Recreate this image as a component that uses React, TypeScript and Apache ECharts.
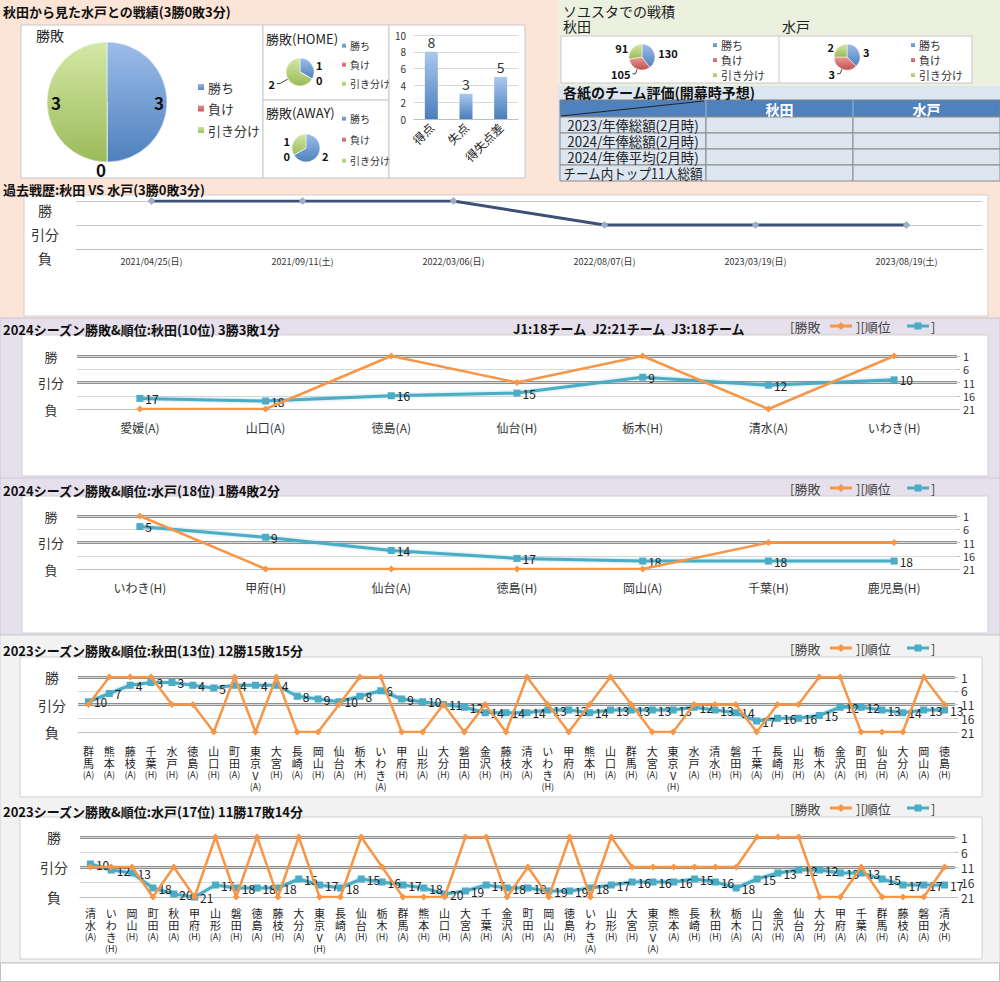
import React, { useEffect, useRef } from 'react';
import * as echarts from 'echarts';

const FONT = '"Noto Sans CJK JP", "Noto Sans", sans-serif';

// ---------------- data ----------------
const OUTCOMES = ['勝ち', '負け', '引き分け'];
const TOTAL_RECORD = [3, 0, 3];
const HOME_RECORD = [1, 0, 2];
const AWAY_RECORD = [2, 0, 1];
const GOAL_LABELS = ['得点', '失点', '得失点差'];
const GOAL_VALUES = [8, 3, 5];
const SOYUSTA_AKITA = [130, 105, 91];
const SOYUSTA_MITO = [3, 3, 2];
const TABLE_TEAMS = ['秋田', '水戸'];
const TABLE_ROWS = ['2023/年俸総額(2月時)', '2024/年俸総額(2月時)', '2024/年俸平均(2月時)', 'チーム内トップ11人総額'];

const HISTORY_DATES = ['2021/04/25(日)', '2021/09/11(土)', '2022/03/06(日)', '2022/08/07(日)', '2023/03/19(日)', '2023/08/19(土)'];
const HISTORY_RESULTS = ['W', 'W', 'W', 'D', 'D', 'D'];

const AKITA24_OPP = ['愛媛(A)', '山口(A)', '徳島(A)', '仙台(H)', '栃木(H)', '清水(A)', 'いわき(H)'];
const AKITA24_RES = ['L', 'L', 'W', 'D', 'W', 'L', 'W'];
const AKITA24_RANK = [17, 18, 16, 15, 9, 12, 10];

const MITO24_OPP = ['いわき(H)', '甲府(H)', '仙台(A)', '徳島(H)', '岡山(A)', '千葉(H)', '鹿児島(H)'];
const MITO24_RES = ['W', 'L', 'L', 'L', 'L', 'D', 'D'];
const MITO24_RANK = [5, 9, 14, 17, 18, 18, 18];

const AKITA23_OPP = ['群馬(A)', '熊本(A)', '藤枝(A)', '千葉(H)', '水戸(H)', '徳島(A)', '山口(H)', '町田(A)', '東京V(A)', '大宮(H)',
  '長崎(A)', '岡山(H)', '仙台(A)', '栃木(H)', 'いわき(A)', '甲府(H)', '山形(A)', '大分(H)', '磐田(A)', '金沢(H)',
  '藤枝(H)', '清水(A)', 'いわき(H)', '甲府(A)', '熊本(H)', '山口(A)', '群馬(H)', '大宮(A)', '東京V(H)', '水戸(A)',
  '清水(H)', '磐田(H)', '千葉(A)', '長崎(H)', '山形(H)', '栃木(A)', '金沢(A)', '町田(H)', '仙台(H)', '大分(A)',
  '岡山(A)', '徳島(H)'];
const AKITA23_RES = 'DWWWDDLWLWLLDWWLLDLDLWDLDWDLLDDDLDDWWLLLWD'.split('');
const AKITA23_RANK = [10, 7, 4, 3, 3, 4, 5, 4, 4, 4, 8, 9, 10, 8, 6, 9, 10, 11, 12, 14,
  14, 14, 13, 13, 14, 13, 13, 13, 13, 12, 13, 14, 17, 16, 16, 15, 12, 12, 13, 14, 13, 13];

const MITO23_OPP = ['清水(A)', 'いわき(H)', '岡山(H)', '町田(A)', '秋田(A)', '甲府(H)', '山形(A)', '磐田(H)', '徳島(A)', '藤枝(H)',
  '大分(A)', '東京V(H)', '長崎(A)', '仙台(H)', '栃木(H)', '群馬(A)', '熊本(H)', '山口(H)', '大宮(A)', '千葉(H)',
  '金沢(A)', '町田(H)', '岡山(A)', '徳島(H)', 'いわき(A)', '山形(H)', '大宮(H)', '東京V(A)', '熊本(A)', '長崎(H)',
  '秋田(H)', '栃木(A)', '山口(A)', '金沢(H)', '仙台(A)', '大分(H)', '甲府(A)', '千葉(A)', '群馬(H)', '藤枝(A)',
  '磐田(A)', '清水(H)'];
const MITO23_RES = 'DDDLDLWLWLWLLWDLLLWWLDLWLWDDDDDDWWWLLDLLLD'.split('');
const MITO23_RANK = [10, 12, 13, 18, 20, 21, 17, 18, 18, 18, 15, 17, 18, 15, 16, 17, 18, 20, 19, 17,
  18, 18, 19, 19, 18, 17, 16, 16, 16, 15, 16, 18, 15, 13, 12, 12, 13, 13, 15, 17, 17, 17];

const HISTORY_Y: Record<string, number> = { W: 2, D: 1, L: 0 };
const HISTORY_Y_LABEL: Record<number, string> = { 2: '勝', 1: '引分', 0: '負' };
const SEASON_Y: Record<string, number> = { W: 1, D: 11, L: 21 };
const SEASON_Y_LABEL: Record<number, string> = { 1: '勝', 11: '引分', 21: '負' };

// ---------------- styles ----------------
const ORANGE = '#f79646';
const BLUE = '#4bacc6';
const grad = (a: string, b: string) =>
  new echarts.graphic.LinearGradient(0, 0, 0, 1, [{ offset: 0, color: a }, { offset: 1, color: b }]);
const PIE_COLORS = [grad('#9dbdea', '#4f81bd'), grad('#e99a97', '#c0504d'), grad('#d3e8a6', '#9bbb59')];

const txt = (x: number, y: number, text: string, o: any = {}) => ({
  type: 'text', x, y, z: 50, silent: true, scaleX: o.scaleX || 1,
  style: {
    text, fill: o.fill || '#111', align: o.align || 'left', verticalAlign: 'middle',
    font: `${o.weight || 'normal'} ${o.size || 13}px ${FONT}`,
  },
});
const rect = (x: number, y: number, w: number, h: number, fill: string, stroke?: string, z = -10) => ({
  type: 'rect', z, silent: true, shape: { x, y, width: w, height: h },
  style: { fill, stroke: stroke || 'none', lineWidth: 1 },
});
const line = (x1: number, y1: number, x2: number, y2: number, stroke: string, w = 1, z = -5) => ({
  type: 'line', z, silent: true, shape: { x1, y1, x2, y2 }, style: { stroke, lineWidth: w },
});

// rough text width in em units (full-width chars = 1, ASCII ≈ 0.56)
const emWidth = (s: string) => s.split('').reduce((a, c) => a + (c.charCodeAt(0) < 256 ? 0.56 : 1), 0);

function seasonLegend(y: number) {
  return [
    txt(790, y, '[勝敗', { fill: '#444' }),
    line(830, y, 852, y, ORANGE, 3, 50),
    { type: 'polygon', z: 51, silent: true, shape: { points: [[841, y - 4], [845, y], [841, y + 4], [837, y]] }, style: { fill: ORANGE } },
    txt(856, y, '][順位', { fill: '#444' }),
    line(907, y, 929, y, BLUE, 3, 50),
    { type: 'rect', z: 51, silent: true, shape: { x: 914.5, y: y - 3.5, width: 7, height: 7 }, style: { fill: BLUE } },
    txt(931, y, ']', { fill: '#444' }),
  ];
}

// lineLen: per-item leader length (0 = no visible leader)
function pieSeries(center: number[], radius: number, values: number[], label: any, lineLen: number[], offsets?: number[][]) {
  return {
    type: 'pie', center, radius, startAngle: 90, clockwise: true, silent: true,
    data: OUTCOMES.map((n, i) => ({
      name: n, value: values[i], itemStyle: { color: PIE_COLORS[i] },
      labelLine: lineLen[i] > 0 ? { show: true, length: lineLen[i], length2: 3 } : { show: false, length: 1, length2: 1 },
      label: offsets ? { offset: offsets[i] } : {},
    })),
    itemStyle: { borderColor: '#fff', borderWidth: 0.5 },
    label: { show: true, formatter: '{c}', color: '#111', fontWeight: 'bold', fontFamily: FONT, distanceToLabelLine: 2, ...label },
    labelLine: { lineStyle: { color: '#444', width: 1 } },
  };
}

function pieLegend(left: number, top: number, gap: number, size: number) {
  return {
    data: OUTCOMES, orient: 'vertical', left, top, itemGap: gap, icon: 'rect', selectedMode: false, padding: 0,
    itemWidth: size < 12 ? 6 : 8, itemHeight: size < 12 ? 6 : 8,
    textStyle: { fontSize: size, color: '#333', lineHeight: size + 1, fontFamily: FONT, padding: [0, 0, 0, -2] },
  };
}

function verticalLabel(v: string) {
  const m = v.match(/^(.*)(\([AH]\))$/);
  const main = m ? m[1] : v;
  const tail = m ? m[2] : '';
  return main.split('').join('\n') + '\n{s|' + tail + '}';
}

export default function App() {
  const ref = useRef<HTMLDivElement>(null);
  useEffect(() => {
    const chart = echarts.init(ref.current!, null, { renderer: 'svg', width: 1000, height: 982 });

    const grids = [
      { left: 414, top: 35, width: 104, height: 84 },
      { left: 76, top: 201, width: 906, height: 48 },
      { left: 77, top: 356, width: 880, height: 53 },
      { left: 77, top: 516, width: 880, height: 53 },
      { left: 78, top: 677, width: 877, height: 55 },
      { left: 80, top: 837, width: 875, height: 60 },
    ];

    const seasonCharts = [
      { opp: AKITA24_OPP, res: AKITA24_RES, rank: AKITA24_RANK, vertical: false, margin: 12, leftSize: 13 },
      { opp: MITO24_OPP, res: MITO24_RES, rank: MITO24_RANK, vertical: false, margin: 12, leftSize: 13 },
      { opp: AKITA23_OPP, res: AKITA23_RES, rank: AKITA23_RANK, vertical: true, margin: 13, leftSize: 14 },
      { opp: MITO23_OPP, res: MITO23_RES, rank: MITO23_RANK, vertical: true, margin: 10, leftSize: 14 },
    ];

    const xAxis: any[] = [
      {
        type: 'category', gridIndex: 0, data: GOAL_LABELS,
        axisLine: { lineStyle: { color: '#bfbfbf' } }, axisTick: { lineStyle: { color: '#bfbfbf' } },
        axisLabel: { rotate: 45, fontSize: 12, color: '#222', margin: 6, interval: 0, fontFamily: FONT },
      },
      {
        type: 'category', gridIndex: 1, data: HISTORY_DATES,
        axisLine: { lineStyle: { color: '#bfbfbf' } }, axisTick: { lineStyle: { color: '#bfbfbf' } },
        axisLabel: { fontSize: 9, color: '#333', margin: 8, interval: 0, fontFamily: FONT },
      },
    ];
    const yAxis: any[] = [
      {
        type: 'value', gridIndex: 0, min: 0, max: 10, interval: 2,
        axisLine: { show: false }, axisTick: { show: false },
        axisLabel: { fontSize: 10, color: '#333', margin: 8, fontFamily: FONT },
        splitLine: { lineStyle: { color: '#d9d9d9' } },
      },
      {
        type: 'value', gridIndex: 1, min: 0, max: 2, interval: 1,
        axisLine: { show: false }, axisTick: { show: false },
        axisLabel: {
          formatter: (v: number) => HISTORY_Y_LABEL[v] || '', fontSize: 14, color: '#333', align: 'center', margin: 31,
          verticalAlign: 'top', padding: [2, 0, 0, 0], fontFamily: FONT,
        },
        splitLine: { lineStyle: { color: '#c8c8c8' } },
      },
    ];
    const series: any[] = [
      pieSeries([107, 102], 60, TOTAL_RECORD, { position: 'inside', fontSize: 17 }, [0, 0, 0],
        [[19, 0], [-6, 34], [-18, 0]]),
      pieSeries([300, 72], 14, HOME_RECORD, { position: 'outside', fontSize: 11 }, [0, 0, 9]),
      pieSeries([306, 148], 14, AWAY_RECORD, { position: 'outside', fontSize: 11 }, [0, 0, 0]),
      pieSeries([642, 57], 13, SOYUSTA_AKITA, { position: 'outside', fontSize: 11 }, [0, 5, 0]),
      pieSeries([847, 57], 13, SOYUSTA_MITO, { position: 'outside', fontSize: 11 }, [0, 5, 0]),
      {
        type: 'bar', xAxisIndex: 0, yAxisIndex: 0, data: GOAL_VALUES, barWidth: 13, silent: true,
        itemStyle: { color: grad('#a9c8ee', '#4a7ebb') },
        label: { show: true, position: 'top', fontSize: 14, color: '#333', distance: 3, fontFamily: FONT },
      },
      {
        type: 'line', xAxisIndex: 1, yAxisIndex: 1, data: HISTORY_RESULTS.map(r => HISTORY_Y[r]), silent: true,
        lineStyle: { color: '#3c5175', width: 3 }, symbol: 'diamond', symbolSize: 7,
        itemStyle: { color: '#9fb0c8', borderColor: '#7f93b0', borderWidth: 0.5 },
      },
    ];

    seasonCharts.forEach((s, i) => {
      const gi = i + 2;
      const yl = 2 + i * 2;
      const yr = yl + 1;
      xAxis.push({
        type: 'category', gridIndex: gi, data: s.opp,
        axisLine: { onZero: false, lineStyle: { color: '#bfbfbf' } },
        axisTick: { interval: 0, lineStyle: { color: '#bfbfbf' } },
        axisLabel: s.vertical
          ? {
            interval: 0, margin: s.margin, fontSize: 11, lineHeight: 12, color: '#222', fontFamily: FONT,
            formatter: verticalLabel, rich: { s: { fontSize: 9, lineHeight: 11, color: '#222', fontFamily: FONT } },
          }
          : { interval: 0, margin: s.margin, fontSize: 12, color: '#333', fontFamily: FONT },
      });
      yAxis.push({
        type: 'value', gridIndex: gi, min: 1, max: 21, interval: 10, inverse: true, position: 'left',
        axisLine: { show: false }, axisTick: { show: false },
        axisLabel: {
          formatter: (v: number) => SEASON_Y_LABEL[v] || '', fontSize: s.leftSize, color: '#333',
          align: 'center', margin: 26, fontFamily: FONT,
        },
        splitLine: { show: true, lineStyle: { color: ['#8f8f8f', '#8f8f8f', 'rgba(0,0,0,0)'], width: 3 } },
      });
      yAxis.push({
        type: 'value', gridIndex: gi, min: 1, max: 21, interval: 5, inverse: true, position: 'right',
        axisLine: { show: false }, axisTick: { show: true, length: 3, lineStyle: { color: '#bfbfbf' } },
        axisLabel: { fontSize: s.vertical ? 12 : 11, color: '#333', margin: 6, fontFamily: FONT },
        splitLine: { show: true, lineStyle: { color: '#d9d9d9', width: 1 } },
      });
      series.push({
        type: 'line', xAxisIndex: gi, yAxisIndex: yr, data: s.rank, silent: true, z: 3,
        lineStyle: { color: BLUE, width: 3, shadowColor: 'rgba(75,172,198,0.45)', shadowBlur: 3 },
        symbol: 'rect', symbolSize: 7, itemStyle: { color: BLUE },
        label: { show: true, position: 'right', distance: 2, fontSize: 12, color: '#222', fontFamily: FONT },
      });
      series.push({
        type: 'line', xAxisIndex: gi, yAxisIndex: yl, data: s.res.map(r => SEASON_Y[r]), silent: true, z: 4,
        lineStyle: { color: ORANGE, width: 2.5 },
        symbol: 'diamond', symbolSize: 7, itemStyle: { color: ORANGE },
      });
    });

    // ---- backgrounds, boxes, texts ----
    const g: any[] = [
      rect(0, 0, 1000, 318, '#fce4d6'),
      rect(558, 0, 442, 86, '#ebf1de'),
      rect(558, 86, 442, 94, '#dce6f1'),
      rect(0, 318, 1000, 317, '#e5e0ec', '#c9c3d3'),
      line(0, 478, 1000, 478, '#d0cadb'),
      rect(0, 635, 1000, 328, '#f2f2f2', '#d0d0d0'),
      rect(0.5, 963, 999, 18.5, '#ffffff', '#c0c0c0'),
      // top-left boxes
      rect(21, 25, 242, 153, '#ffffff', '#c8c8c8', -9),
      rect(263, 25, 126, 75, '#ffffff', '#c8c8c8', -9),
      rect(263, 100, 126, 78, '#ffffff', '#c8c8c8', -9),
      rect(389, 25, 136, 153, '#ffffff', '#c8c8c8', -9),
      // soyusta box
      rect(561, 36, 411, 47, '#ffffff', '#c8c8c8', -9),
      line(779, 36, 779, 83, '#c8c8c8', 1, -8),
      // history box
      rect(24, 195, 964, 121, '#ffffff', '#d0d0d0', -9),
      // season boxes
      rect(22, 335, 966, 141, '#ffffff', '#d0d0d0', -9),
      rect(22, 496, 966, 137, '#ffffff', '#d0d0d0', -9),
      rect(20, 657, 962, 140, '#ffffff', '#d0d0d0', -9),
      rect(20, 817, 962, 142, '#ffffff', '#d0d0d0', -9),
      // titles
      txt(3, 11, '秋田から見た水戸との戦績(3勝0敗3分)', { weight: 'bold', size: 13 }),
      txt(36, 35, '勝敗', { size: 14, fill: '#222' }),
      txt(266, 38, '勝敗(HOME)', { size: 13, fill: '#222' }),
      txt(266, 112, '勝敗(AWAY)', { size: 13, fill: '#222' }),
      txt(563, 11, 'ソユスタでの戦積', { size: 14, fill: '#222' }),
      txt(563, 26, TABLE_TEAMS[0], { size: 14, fill: '#222' }),
      txt(782, 26, TABLE_TEAMS[1], { size: 14, fill: '#222' }),
      txt(563, 92, '各紙のチーム評価(開幕時予想)', { weight: 'bold', size: 14 }),
      txt(3, 189, '過去戦歴:秋田 VS 水戸(3勝0敗3分)', { weight: 'bold', size: 13 }),
      txt(3, 329, '2024シーズン勝敗&順位:秋田(10位) 3勝3敗1分', { weight: 'bold', size: 13 }),
      txt(513, 328, 'J1:18チーム  J2:21チーム  J3:18チーム', { weight: 'bold', size: 13 }),
      txt(3, 490, '2024シーズン勝敗&順位:水戸(18位) 1勝4敗2分', { weight: 'bold', size: 13 }),
      txt(3, 650, '2023シーズン勝敗&順位:秋田(13位) 12勝15敗15分', { weight: 'bold', size: 13 }),
      txt(3, 811, '2023シーズン勝敗&順位:水戸(17位) 11勝17敗14分', { weight: 'bold', size: 13 }),
      ...seasonLegend(326),
      ...seasonLegend(488),
      ...seasonLegend(648),
      ...seasonLegend(808),
    ];

    // table
    const colX = [560, 706, 853, 1000];
    const headerTop = 100;
    const rowH = 16;
    g.push(rect(560, headerTop, 440, 17, '#4f81bd', '#7f7f7f', -8));
    g.push(line(706, headerTop, 706, headerTop + 17, '#9fb6d8', 1, -7));
    g.push(line(853, headerTop, 853, headerTop + 17, '#9fb6d8', 1, -7));
    g.push(line(561, headerTop + 16, 704, headerTop + 1, '#222', 1, -7));
    TABLE_TEAMS.forEach((t, i) => {
      g.push(txt((colX[i + 1] + colX[i + 2]) / 2, headerTop + 8.5, t, { weight: 'bold', size: 14, fill: '#fff', align: 'center' }));
    });
    TABLE_ROWS.forEach((r, i) => {
      const y = headerTop + 17 + i * rowH;
      for (let c = 0; c < 3; c++) {
        g.push(rect(colX[c], y, colX[c + 1] - colX[c], rowH, '#dce6f1', '#8a8a8a', -8));
      }
      const w = emWidth(r) * 14;
      const scaleX = Math.min(1, 140 / w);
      g.push(txt((colX[0] + colX[1]) / 2, y + rowH / 2, r, { size: 14, fill: '#222', align: 'center', scaleX }));
    });

    chart.setOption({
      animation: false,
      textStyle: { fontFamily: FONT },
      grid: grids.map(gr => ({ ...gr, containLabel: false })),
      xAxis,
      yAxis,
      legend: [
        pieLegend(196, 80, 7.5, 13),
        pieLegend(340, 40, 8, 10),
        pieLegend(340, 113, 10, 10),
        pieLegend(711, 39, 3, 11),
        pieLegend(909, 39, 3, 11),
      ],
      graphic: { elements: g },
      series,
    });
    return () => chart.dispose();
  }, []);
  return <div ref={ref} style={{ position: 'absolute', left: 0, top: 0, width: 1000, height: 982 }} />;
}
